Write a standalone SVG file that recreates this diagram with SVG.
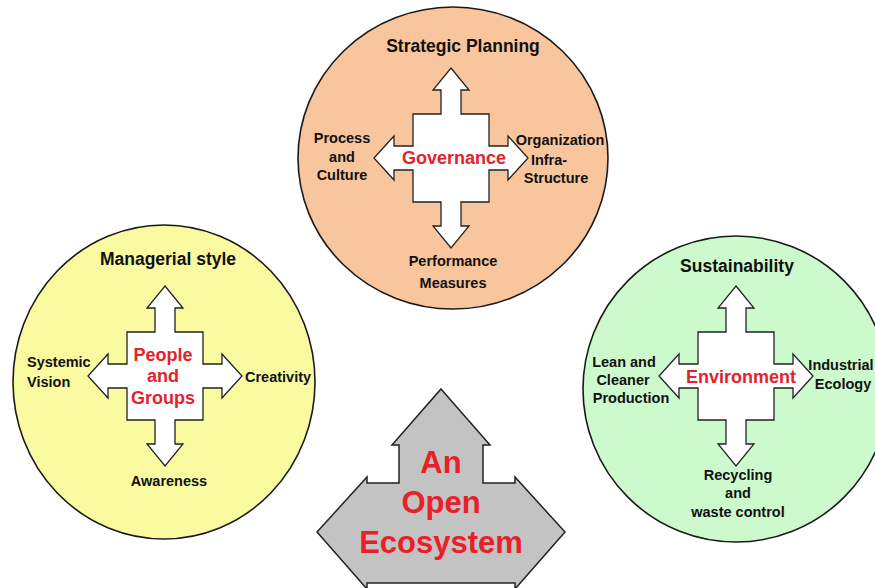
<svg xmlns="http://www.w3.org/2000/svg" width="875" height="588" viewBox="0 0 875 588">
<style>
.circ{stroke:#1a1a1a;stroke-width:1.6}
.cross{fill:#ffffff;stroke:#222;stroke-width:1.3;stroke-linejoin:miter}
.lbl{font-family:"Liberation Sans",Arial,sans-serif;font-weight:bold;font-size:14.5px;fill:#111}
.ttl{font-family:"Liberation Sans",Arial,sans-serif;font-weight:bold;font-size:17.5px;fill:#111}
.red{font-family:"Liberation Sans",Arial,sans-serif;font-weight:bold;font-size:18px;fill:#e4222c}
.big{font-family:"Liberation Sans",Arial,sans-serif;font-weight:bold;font-size:31px;fill:#e8202a}
</style>
<defs>
<path id="cross" d="M0,-90 L18,-68 L10,-68 L10,-44 L38,-44 L38,-12 L57,-12 L57,-22 L77,0 L57,22 L57,12 L38,12 L38,44 L10,44 L10,68 L18,68 L0,90 L-18,68 L-10,68 L-10,44 L-38,44 L-38,12 L-57,12 L-57,22 L-77,0 L-57,-22 L-57,-12 L-38,-12 L-38,-44 L-10,-44 L-10,-68 L-18,-68 Z"/>
</defs>
<rect width="875" height="588" fill="#ffffff"/>

<g id="governance">
<ellipse class="circ" cx="453" cy="158" rx="155" ry="151" fill="#f9c59c"/>
<use href="#cross" class="cross" x="451" y="158"/>
<text class="ttl" x="463" y="52" text-anchor="middle">Strategic Planning</text>
<text class="red" x="454" y="164" text-anchor="middle">Governance</text>
<text class="lbl" text-anchor="middle"><tspan x="342" y="143">Process</tspan><tspan x="342" y="162">and</tspan><tspan x="342" y="180">Culture</tspan></text>
<text class="lbl" text-anchor="middle"><tspan x="560" y="145">Organization</tspan><tspan x="549" y="165">Infra-</tspan><tspan x="556" y="183">Structure</tspan></text>
<text class="lbl" text-anchor="middle"><tspan x="453" y="266">Performance</tspan><tspan x="453" y="288">Measures</tspan></text>
</g>

<g id="people">
<ellipse class="circ" cx="164" cy="382" rx="151" ry="157" fill="#fafaa0"/>
<use href="#cross" class="cross" x="165" y="376"/>
<text class="ttl" x="168" y="265" text-anchor="middle">Managerial style</text>
<text class="red" text-anchor="middle"><tspan x="163" y="361">People</tspan><tspan x="163" y="382">and</tspan><tspan x="163" y="404">Groups</tspan></text>
<text class="lbl"><tspan x="27" y="367">Systemic</tspan><tspan x="27" y="387">Vision</tspan></text>
<text class="lbl" x="245" y="382">Creativity</text>
<text class="lbl" x="169" y="486" text-anchor="middle">Awareness</text>
</g>

<g id="environment">
<ellipse class="circ" cx="736" cy="389" rx="153" ry="153" fill="#cdfacd"/>
<use href="#cross" class="cross" x="736" y="376"/>
<text class="ttl" x="737" y="272" text-anchor="middle">Sustainability</text>
<text class="red" x="741" y="383" text-anchor="middle">Environment</text>
<text class="lbl" text-anchor="middle"><tspan x="624" y="367">Lean and</tspan><tspan x="623" y="385">Cleaner</tspan><tspan x="631" y="403">Production</tspan></text>
<text class="lbl" text-anchor="middle"><tspan x="841" y="370">Industrial</tspan><tspan x="843" y="389">Ecology</tspan></text>
<text class="lbl" text-anchor="middle"><tspan x="738" y="480">Recycling</tspan><tspan x="738" y="498">and</tspan><tspan x="738" y="517">waste control</tspan></text>
</g>

<g id="ecosystem">
<path d="M441,389 L490,445 L483,445 L483,483 L515,483 L515,477 L565,532 L515,589 L515,583 L367,583 L367,589 L317,532 L367,477 L367,483 L399,483 L399,445 L392,445 Z" fill="#c3c3c3" stroke="#222" stroke-width="1.5" stroke-linejoin="miter"/>
<text class="big" text-anchor="middle"><tspan x="441" y="473">An</tspan><tspan x="441" y="513">Open</tspan><tspan x="441" y="553">Ecosystem</tspan></text>
</g>

<g id="connectors"></g>
</svg>
